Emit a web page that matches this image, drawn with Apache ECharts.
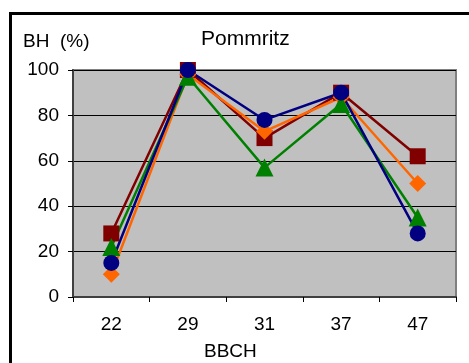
<!DOCTYPE html>
<html>
<head>
<meta charset="utf-8">
<script src="https://cdn.jsdelivr.net/npm/echarts@6/dist/echarts.min.js"></script>
<style>
html,body{margin:0;padding:0;background:#fff;}
#chart{width:469px;height:363px;}
</style>
</head>
<body>
<div id="chart"></div>
<script>
const categories = ['22', '29', '31', '37', '47'];
const yTicks = [0, 20, 40, 60, 80, 100];
const seriesRed = [28, 100, 70, 90, 62];
const seriesOrange = [10, 98, 73, 88, 50];
const seriesGreen = [22, 97, 57, 85, 35];
const seriesBlue = [15, 100, 78, 90, 28];

const font = 'Arial, "Liberation Sans", sans-serif';
const chart = echarts.init(document.getElementById('chart'), null, {renderer: 'canvas'});

function mk(name, data, color, symbol, size) {
  return {
    name: name, type: 'line', data: data,
    symbol: symbol, symbolSize: size,
    itemStyle: {color: color, borderWidth: 0},
    lineStyle: {color: color, width: 2.5},
    emphasis: {disabled: true},
    animation: false
  };
}

chart.setOption({
  animation: false,
  backgroundColor: '#fff',
  grid: {left: 73, top: 70, width: 383, height: 227, show: true,
         backgroundColor: '#c0c0c0', borderColor: '#808080', borderWidth: 2},
  graphic: [
    {type: 'rect', shape: {x: 10.5, y: 13.5, width: 700, height: 600},
     style: {fill: 'none', stroke: '#000', lineWidth: 3}, silent: true},
    {type: 'text', x: 201, y: 39,
     style: {text: 'Pommritz', font: '21px ' + font, fill: '#000', textVerticalAlign: 'middle'}},
    {type: 'text', x: 23, y: 42,
     style: {text: 'BH  (%)', font: '19px ' + font, fill: '#000', textVerticalAlign: 'middle'}},
    {type: 'text', x: 204, y: 352,
     style: {text: 'BBCH', font: '19px ' + font, fill: '#000', textVerticalAlign: 'middle'}}
  ],
  xAxis: {
    type: 'category', data: categories, boundaryGap: true,
    axisLine: {show: true, lineStyle: {color: '#404040', width: 2}},
    axisTick: {show: true, inside: false, length: 5, alignWithLabel: false, lineStyle: {color: '#000', width: 1}},
    axisLabel: {color: '#000', fontSize: 19, fontFamily: font, margin: 18},
    splitLine: {show: false}
  },
  yAxis: {
    type: 'value', min: yTicks[0], max: yTicks[yTicks.length - 1], interval: 20,
    axisLine: {show: true, lineStyle: {color: '#404040', width: 2}},
    axisTick: {show: true, inside: false, length: 5, lineStyle: {color: '#000', width: 1}},
    axisLabel: {color: '#000', fontSize: 19, fontFamily: font, margin: 14},
    splitLine: {show: true, lineStyle: {color: '#000', width: 1}}
  },
  series: [
    mk('A', seriesRed, '#800000', 'rect', 16),
    mk('B', seriesOrange, '#ff6600', 'diamond', 17),
    mk('C', seriesGreen, '#008000', 'triangle', 18),
    mk('D', seriesBlue, '#000080', 'circle', 16)
  ]
});
</script>
</body>
</html>
